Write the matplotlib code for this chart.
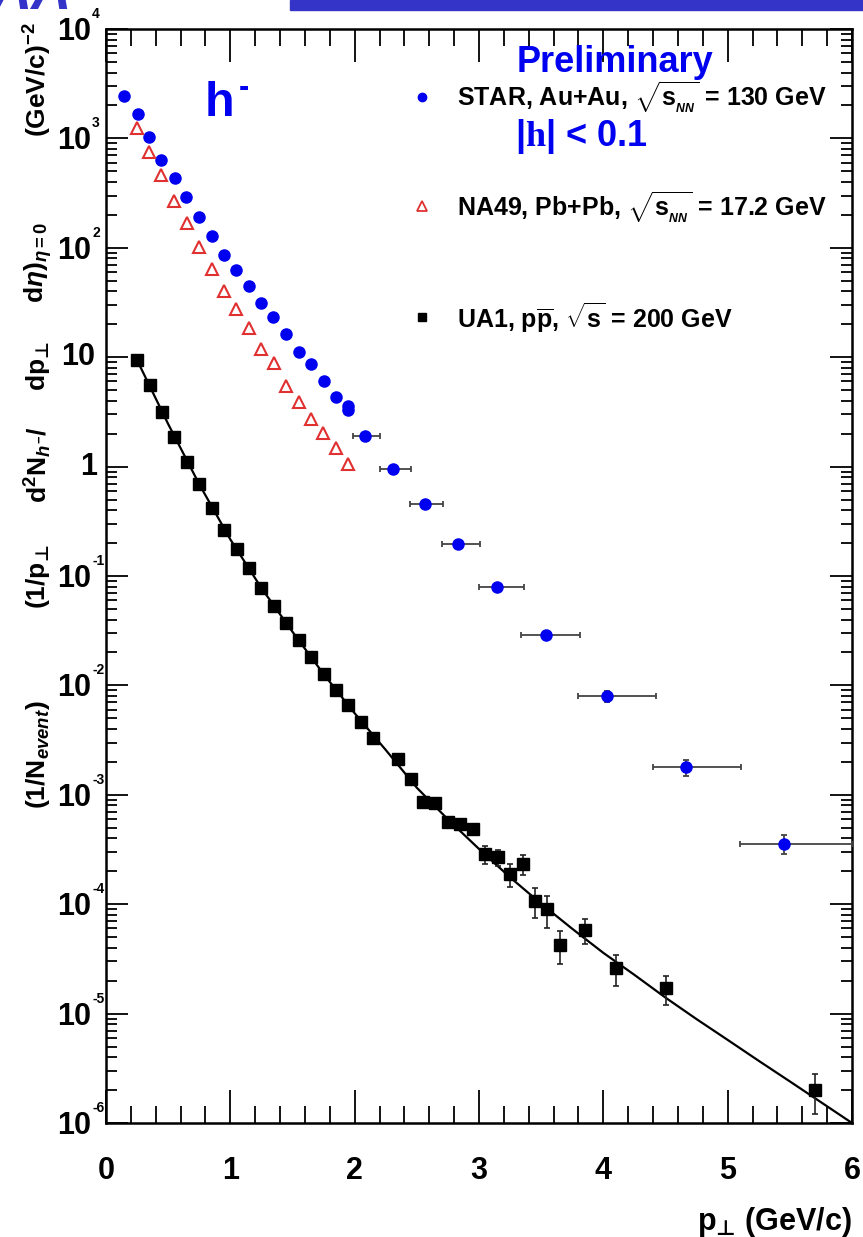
import numpy as np
import matplotlib.pyplot as plt
from matplotlib.ticker import MultipleLocator, LogLocator, NullFormatter

plt.rcParams['font.family'] = ['Liberation Sans', 'DejaVu Sans']
plt.rcParams['font.weight'] = 'bold'
plt.rcParams['mathtext.fontset'] = 'custom'
plt.rcParams['mathtext.rm'] = 'Liberation Sans:bold'
plt.rcParams['mathtext.it'] = 'Liberation Sans:italic:bold'
plt.rcParams['mathtext.bf'] = 'Liberation Sans:bold'
plt.rcParams['mathtext.sf'] = 'Liberation Serif'
plt.rcParams['mathtext.cal'] = 'DejaVu Sans:bold'

PERP = r'$_{\mathcal{⊥}}$'

# STAR Au+Au 130 GeV, low pt (no x errors)
star_pt = [0.145, 0.255, 0.348, 0.444, 0.553, 0.646, 0.748, 0.850, 0.949, 1.043,
           1.152, 1.249, 1.343, 1.450, 1.552, 1.647, 1.751, 1.848, 1.949, 1.949]
star_y = [2455, 1671, 1037, 631, 438, 291, 191, 129, 86.5, 62.7,
          44.8, 31.5, 23.3, 16.3, 11.2, 8.6, 6.06, 4.31, 3.30, 3.6]

# STAR high pt with bin widths
star_hi_pt = [2.087, 2.309, 2.566, 2.83, 3.145, 3.537, 4.031, 4.665, 5.453]
star_hi_y = [1.90, 0.95, 0.455, 0.196, 0.0794, 0.0289, 0.0080, 0.00179, 3.55e-4]
star_hi_xlo = [1.99, 2.20, 2.445, 2.70, 3.0, 3.34, 3.80, 4.40, 5.10]
star_hi_xhi = [2.20, 2.45, 2.71, 3.01, 3.36, 3.81, 4.42, 5.11, 6.0]
star_hi_yerr = [0, 0, 0, 0, 0, 0, 0.0009, 0.0003, 0.7e-4]

# NA49 Pb+Pb 17.2 GeV
na49_pt = [0.247, 0.348, 0.442, 0.547, 0.649, 0.748, 0.850, 0.949, 1.046,
           1.150, 1.249, 1.348, 1.446, 1.549, 1.647, 1.748, 1.848, 1.949]
na49_y = [1253, 756, 463, 270, 167, 102, 64, 40.5, 27.4,
          18.4, 11.8, 8.8, 5.5, 3.92, 2.72, 2.01, 1.47, 1.06]

# UA1 p-pbar 200 GeV
ua1_pt = [0.25, 0.35, 0.45, 0.55, 0.65, 0.75, 0.85, 0.95, 1.05, 1.15,
          1.25, 1.35, 1.45, 1.55, 1.65, 1.75, 1.85, 1.95, 2.05, 2.15,
          2.35, 2.45, 2.55, 2.65, 2.75, 2.85, 2.95, 3.05, 3.15, 3.25,
          3.35, 3.45, 3.55, 3.65, 3.85, 4.1, 4.5, 5.7]
ua1_y = [9.4, 5.57, 3.18, 1.88, 1.11, 0.69, 0.42, 0.265, 0.177, 0.118,
         0.078, 0.053, 0.037, 0.026, 0.0182, 0.0127, 0.0090, 0.0066, 0.0046, 0.0033,
         2.12e-3, 1.39e-3, 8.65e-4, 8.36e-4, 5.68e-4, 5.41e-4, 4.84e-4, 2.86e-4, 2.69e-4, 1.88e-4,
         2.33e-4, 1.08e-4, 9.0e-5, 4.24e-5, 5.8e-5, 2.6e-5, 1.7e-5, 2.0e-6]
ua1_yerr = [0, 0, 0, 0, 0, 0, 0, 0, 0, 0,
            0, 0, 0, 0, 0, 0, 0, 0, 0, 0,
            0.1e-3, 0.07e-3, 0.5e-4, 0.5e-4, 0.5e-4, 0.5e-4, 0.5e-4, 0.55e-4, 0.45e-4, 0.45e-4,
            0.5e-4, 0.33e-4, 0.3e-4, 1.4e-5, 1.5e-5, 0.8e-5, 0.5e-5, 0.8e-6]

# UA1 fit curve
fit_pt = [0.25, 0.5, 0.75, 1.0, 1.25, 1.5, 1.75, 2.0, 2.25, 2.5, 2.75, 3.0, 3.25,
          3.5, 3.75, 4.0, 4.25, 4.5, 4.75, 5.0, 5.25, 5.5, 5.75, 6.0]
fit_y = [9.4, 2.45, 0.69, 0.216, 0.0776, 0.0309, 0.0127, 5.56e-3, 2.57e-3, 1.16e-3, 5.96e-4, 3.2e-4, 1.76e-4,
         1.01e-4, 5.96e-5, 3.59e-5, 2.26e-5, 1.40e-5, 8.9e-6, 5.75e-6, 3.7e-6, 2.4e-6, 1.55e-6, 1.0e-6]

# y axis title pieces and where their centres sit (pixels from top)
ylab_parts = [r'(1/N$_{event}$)', r'(1/p' + PERP, r'd$^{2}$N$_{h^{-}}$/',
              r'dp' + PERP, r'd$\eta$)$_{\eta=0}$', r'(GeV/c)$^{-2}$']
ylab_pos = [755, 577, 465, 366, 262, 80]

W, H = 863, 1237
fig = plt.figure(figsize=(W / 100, H / 100), dpi=100)
ax = fig.add_axes([106 / W, 1 - 1123 / H, (852 - 106) / W, (1123 - 29) / H])

ax.plot(fit_pt, fit_y, color='black', lw=1.6, zorder=2)

ax.errorbar(star_hi_pt, star_hi_y,
            xerr=[np.subtract(star_hi_pt, star_hi_xlo), np.subtract(star_hi_xhi, star_hi_pt)],
            yerr=star_hi_yerr, fmt='none', ecolor='#444444', elinewidth=1.3,
            capsize=2.5, capthick=1.3, zorder=3)
ax.plot(star_hi_pt, star_hi_y, 'o', color='#0000f0', ms=8, mec='#0000f0', zorder=4)
ax.plot(star_pt, star_y, 'o', color='#0000f0', ms=8, mec='#0000f0', zorder=4)

ax.plot(na49_pt, na49_y, '^', mfc='none', mec='#e03030', mew=1.5, ms=8.5, zorder=4)

ax.errorbar(ua1_pt, ua1_y, yerr=ua1_yerr, fmt='none', ecolor='#222222',
            elinewidth=1.2, capsize=2.5, capthick=1.2, zorder=3)
ax.plot(ua1_pt, ua1_y, 's', color='black', ms=8, zorder=4)

ax.set_yscale('log')
ax.set_xlim(0, 6)
ax.set_ylim(1e-6, 1e4)

ax.xaxis.set_major_locator(MultipleLocator(1))
ax.xaxis.set_minor_locator(MultipleLocator(0.2))
ax.yaxis.set_major_locator(LogLocator(base=10, numticks=20))
ax.yaxis.set_minor_locator(LogLocator(base=10, subs=np.arange(2, 10), numticks=20))
ax.yaxis.set_major_formatter(NullFormatter())
ax.yaxis.set_minor_formatter(NullFormatter())

ax.tick_params(which='both', direction='in', top=True, right=True, width=1.3)
ax.tick_params(axis='x', which='major', length=24, labelsize=22, pad=24)
ax.tick_params(axis='x', which='minor', length=12)
ax.tick_params(axis='y', which='major', length=16)
ax.tick_params(axis='y', which='minor', length=8)
for s in ax.spines.values():
    s.set_linewidth(1.8)
for lab in ax.get_xticklabels():
    lab.set_fontweight('bold')

# y tick labels in ROOT style: "10" plus a small raised exponent
for k in range(-6, 5):
    if k == 0:
        ax.annotate('1', xy=(0, 10.0 ** k), xycoords=('axes fraction', 'data'),
                    xytext=(-9, 0), textcoords='offset pixels', ha='right', va='center',
                    fontsize=22, fontweight='bold')
    elif k == 1:
        ax.annotate('10', xy=(0, 10.0 ** k), xycoords=('axes fraction', 'data'),
                    xytext=(-11, 0), textcoords='offset pixels', ha='right', va='center',
                    fontsize=22, fontweight='bold')
    else:
        ax.annotate('10', xy=(0, 10.0 ** k), xycoords=('axes fraction', 'data'),
                    xytext=(-15, -3), textcoords='offset pixels', ha='right', va='center',
                    fontsize=22, fontweight='bold')
        ax.annotate(str(k), xy=(0, 10.0 ** k), xycoords=('axes fraction', 'data'),
                    xytext=(-14, 15), textcoords='offset pixels', ha='left', va='center',
                    fontsize=10, fontweight='bold')

# legend
def axfrac(px, py):
    return (px - 106) / 746, 1 - (py - 29) / 1094

lx, ly = axfrac(422, 97)
ax.plot([lx], [ly], 'o', color='#0000f0', ms=6, transform=ax.transAxes, clip_on=False)
tx, ty = axfrac(457, 97)
ax.text(tx, ty, r'STAR, Au+Au, $\sqrt{\mathrm{s}_{_{NN}}}$ = 130 GeV', transform=ax.transAxes,
        fontsize=18, fontweight='bold', va='center', ha='left')

lx, ly = axfrac(422, 206)
ax.plot([lx], [ly], '^', mfc='none', mec='#e03030', mew=1.3, ms=7, transform=ax.transAxes)
tx, ty = axfrac(457, 207)
ax.text(tx, ty, r'NA49, Pb+Pb, $\sqrt{\mathrm{s}_{_{NN}}}$ = 17.2 GeV', transform=ax.transAxes,
        fontsize=18, fontweight='bold', va='center', ha='left')

lx, ly = axfrac(422, 317)
ax.plot([lx], [ly], 's', color='black', ms=6, transform=ax.transAxes)
tx, ty = axfrac(457, 318)
ax.text(tx, ty, r'UA1, p$\overline{\mathrm{p}}$, $\sqrt{\mathrm{s}}$ = 200 GeV', transform=ax.transAxes,
        fontsize=18, fontweight='bold', va='center', ha='left')

tx, ty = axfrac(615, 63)
ax.text(tx, ty, 'Preliminary', transform=ax.transAxes, fontsize=26, fontweight='bold',
        color='#0000f0', ha='center', va='center')
tx, ty = axfrac(515, 137)
ax.text(tx, ty, r'|$\mathsf{h}$| < 0.1', transform=ax.transAxes, fontsize=26, fontweight='bold',
        color='#0000f0', ha='left', va='center')
tx, ty = axfrac(205, 103)
ax.text(tx, ty, 'h', transform=ax.transAxes, fontsize=35, fontweight='bold',
        color='#0000f0', ha='left', va='center')
tx, ty = axfrac(244, 88)
ax.text(tx, ty, '-', transform=ax.transAxes, fontsize=22, fontweight='bold',
        color='#0000f0', ha='center', va='center')

# y axis title, spread along the axis like the original
for part, py in zip(ylab_parts, ylab_pos):
    fig.text(38 / W, 1 - py / H, part, rotation=90, ha='center', va='center',
             fontsize=19, fontweight='bold')
fig.text(852 / W, 1 - 1222 / H, r'p' + PERP + r' (GeV/c)', ha='right', va='center',
         fontsize=22, fontweight='bold')

# slide decoration at the top
fig.patches.append(plt.Rectangle((290 / W, 1 - 10 / H), 1, 10 / H, transform=fig.transFigure,
                                 color='#3434c8', zorder=0))
fig.text(-0.01, 1 - 9 / H, 'AA', ha='left', va='baseline', fontsize=40, fontweight='bold',
         style='italic', color='#3434c8')

fig.savefig('out.png', dpi=100)
